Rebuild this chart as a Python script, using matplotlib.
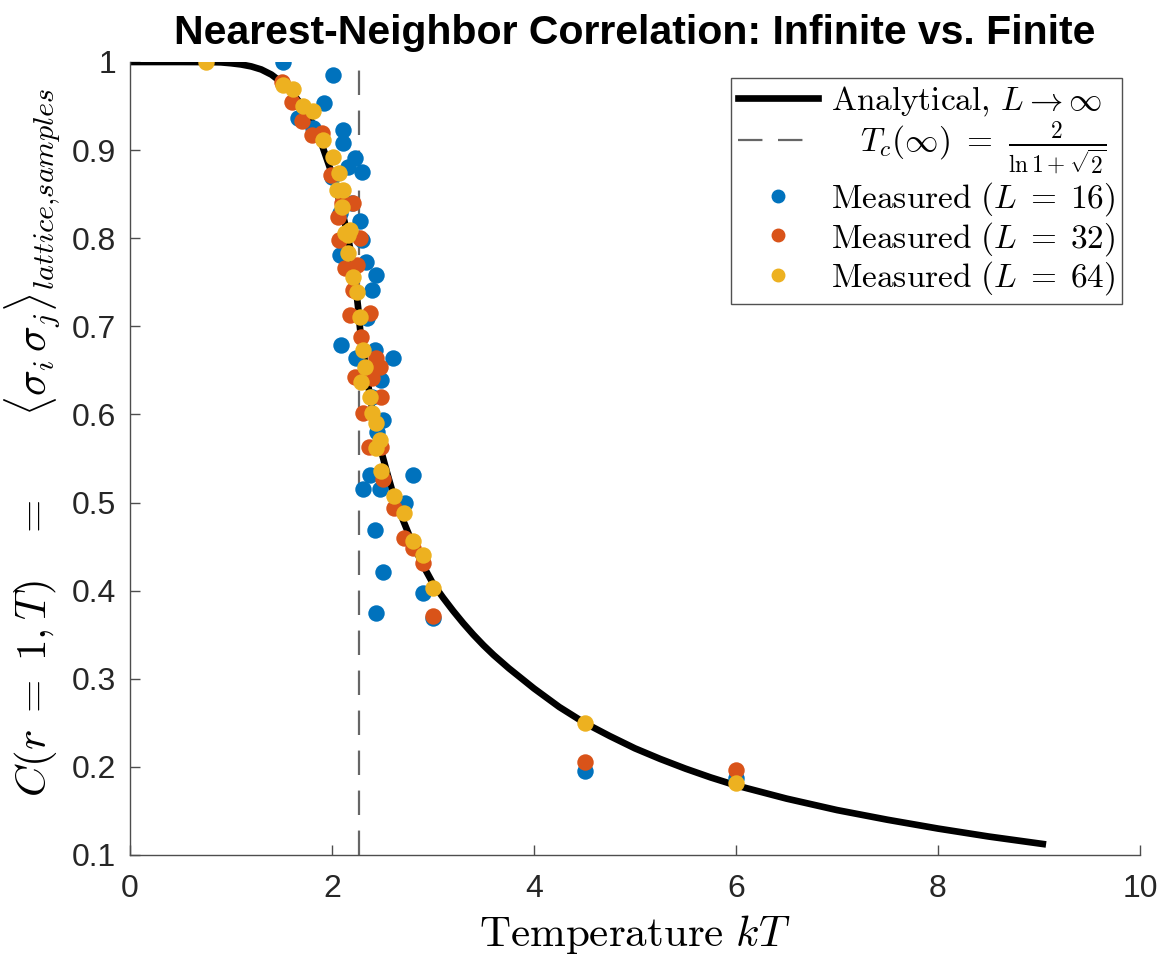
import matplotlib
matplotlib.use("Agg")
import matplotlib.pyplot as plt
from matplotlib.lines import Line2D

# ---------------- data ----------------
T_curve = [0.0, 0.5, 0.8, 0.9, 1.0, 1.1, 1.2, 1.3, 1.4, 1.5, 1.6, 1.7, 1.8, 1.9,
           2.0, 2.1, 2.15, 2.2, 2.24, 2.26, 2.269, 2.28, 2.3, 2.35, 2.4, 2.45,
           2.5, 2.55, 2.6, 2.65, 2.7, 2.8, 2.9, 3.0, 3.1, 3.2, 3.3, 3.4, 3.5,
           3.6, 3.75, 4.0, 4.25, 4.5, 4.75, 5.0, 5.25, 5.5, 5.75, 6.0, 6.5,
           7.0, 7.5, 8.0, 8.5, 9.07]
C_curve = [1.0, 1.0, 0.9999, 0.9996, 0.9986, 0.9972, 0.995, 0.9915, 0.9857,
           0.977, 0.966, 0.951, 0.932, 0.906, 0.873, 0.831, 0.806, 0.776, 0.740,
           0.720, 0.7071, 0.695, 0.682, 0.639, 0.605, 0.578, 0.553, 0.532,
           0.512, 0.496, 0.481, 0.453, 0.429, 0.408, 0.392, 0.377, 0.363,
           0.350, 0.338, 0.327, 0.312, 0.289, 0.268, 0.250, 0.235, 0.221,
           0.209, 0.198, 0.188, 0.179, 0.164, 0.151, 0.140, 0.130, 0.121, 0.112]

Tc = 2.269

T_L16 = [1.51, 2.01, 1.92, 1.81, 1.66, 2.11, 2.11, 2.16, 2.23, 2.30, 2.08, 2.28,
         2.30, 2.08, 2.34, 2.44, 2.40, 2.09, 2.43, 2.60, 2.24, 2.49, 2.50, 2.38,
         2.80, 2.31, 2.48, 2.72, 2.43, 2.50, 2.90, 2.44, 3.00, 4.50, 6.00,
         2.00, 2.20, 2.35, 2.40, 2.45]
C_L16 = [1.000, 0.985, 0.953, 0.925, 0.937, 0.923, 0.908, 0.881, 0.891, 0.875,
         0.829, 0.820, 0.798, 0.781, 0.773, 0.758, 0.741, 0.679, 0.673, 0.664,
         0.664, 0.639, 0.594, 0.531, 0.531, 0.515, 0.515, 0.500, 0.469, 0.421,
         0.397, 0.375, 0.369, 0.195, 0.187,
         0.870, 0.840, 0.710, 0.620, 0.580]

T_L32 = [1.50, 1.60, 1.70, 1.80, 1.90, 1.99, 2.21, 2.06, 2.07, 2.13, 2.25, 2.21,
         2.18, 2.38, 2.29, 2.44, 2.48, 2.23, 2.40, 2.49, 2.31, 2.37, 2.49, 2.50,
         2.61, 2.71, 2.80, 2.90, 3.00, 4.50, 6.00, 2.28, 2.10]
C_L32 = [0.977, 0.955, 0.933, 0.917, 0.919, 0.872, 0.840, 0.824, 0.798, 0.766,
         0.770, 0.741, 0.713, 0.715, 0.688, 0.664, 0.654, 0.643, 0.641, 0.620,
         0.602, 0.563, 0.563, 0.527, 0.494, 0.460, 0.448, 0.431, 0.371, 0.205,
         0.197, 0.800, 0.840]

T_L64 = [0.75, 1.51, 1.61, 1.71, 1.81, 1.91, 2.01, 2.07, 2.11, 2.05, 2.10, 2.18,
         2.13, 2.16, 2.16, 2.21, 2.25, 2.28, 2.31, 2.33, 2.29, 2.38, 2.40, 2.44,
         2.48, 2.44, 2.49, 2.61, 2.71, 2.80, 2.90, 3.00, 4.50, 6.00]
C_L64 = [1.000, 0.974, 0.969, 0.950, 0.944, 0.911, 0.892, 0.874, 0.855, 0.855,
         0.836, 0.809, 0.806, 0.783, 0.804, 0.756, 0.739, 0.711, 0.673, 0.654,
         0.637, 0.620, 0.602, 0.590, 0.571, 0.562, 0.536, 0.507, 0.488, 0.456,
         0.441, 0.403, 0.250, 0.182]

x_ticks = [0, 2, 4, 6, 8, 10]
y_ticks = [0.1, 0.2, 0.3, 0.4, 0.5, 0.6, 0.7, 0.8, 0.9, 1.0]
y_ticklabels = ["0.1", "0.2", "0.3", "0.4", "0.5", "0.6", "0.7", "0.8", "0.9", "1"]

# ---------------- styling ----------------
plt.rcParams["mathtext.fontset"] = "cm"
plt.rcParams["font.family"] = ["Liberation Sans", "DejaVu Sans"]

c_blue = "#0072BD"
c_orange = "#D95319"
c_yellow = "#EDB120"
axcol = "#4d4d4d"
dash_col = "#666666"

fig = plt.figure(figsize=(11.65, 9.6), dpi=100)
ax = fig.add_axes([130 / 1165, 105 / 960, 1010 / 1165, 793 / 960])

ax.plot(T_curve, C_curve, color="black", lw=4.8, solid_capstyle="butt",
        solid_joinstyle="round", zorder=2)
ax.axvline(Tc, color=dash_col, lw=1.6, dashes=(11, 7), zorder=1)

ms = 140
ax.scatter(T_L16, C_L16, s=ms, color=c_blue, linewidths=0, zorder=3)
ax.scatter(T_L32, C_L32, s=ms, color=c_orange, linewidths=0, zorder=4)
ax.scatter(T_L64, C_L64, s=ms, color=c_yellow, linewidths=0, zorder=5)

ax.set_xlim(0, 10)
ax.set_ylim(0.1, 1.0)
ax.set_xticks(x_ticks)
ax.set_xticklabels([str(v) for v in x_ticks])
ax.set_yticks(y_ticks)
ax.set_yticklabels(y_ticklabels)

for s in ["top", "right"]:
    ax.spines[s].set_visible(False)
for s in ["left", "bottom"]:
    ax.spines[s].set_color(axcol)
    ax.spines[s].set_linewidth(1.0)
ax.tick_params(direction="in", length=7, width=1.0, color=axcol,
               labelsize=23, labelcolor="#262626")
ax.tick_params(axis="x", pad=14)
ax.tick_params(axis="y", pad=10)

ax.set_title("Nearest-Neighbor Correlation: Infinite vs. Finite",
             fontsize=29.5, fontweight="bold", pad=13)
ax.set_xlabel(r"$\mathrm{Temperature}\ kT$", fontsize=31, labelpad=6)
ax.set_ylabel(r"$C(r\;=\;1,T)\quad=\qquad\langle\sigma_i\,\sigma_j\rangle_{lattice{,}samples}$",
              fontsize=31)
ax.yaxis.set_label_coords(-0.067, 0.52)

handles = [
    Line2D([], [], color="black", lw=4.8),
    Line2D([], [], color=dash_col, lw=1.6, dashes=(11, 7)),
    Line2D([], [], marker="o", ls="none", color=c_blue, markersize=9),
    Line2D([], [], marker="o", ls="none", color=c_orange, markersize=9),
    Line2D([], [], marker="o", ls="none", color=c_yellow, markersize=9),
]
labels = [
    r"$\mathrm{Analytical,}\,L\rightarrow\infty$",
    r"$\ \ \ T_c(\infty)\ =\ \frac{2}{\ln 1+\sqrt{2}}$",
    r"$\mathrm{Measured}\ (L\;=\;16)$",
    r"$\mathrm{Measured}\ (L\;=\;32)$",
    r"$\mathrm{Measured}\ (L\;=\;64)$",
]
leg = ax.legend(handles, labels, loc="upper right", bbox_to_anchor=(0.982, 0.980),
                borderaxespad=0, fontsize=24, frameon=True, fancybox=False,
                handlelength=2.4, handletextpad=0.4, labelspacing=0.05,
                borderpad=0.2)
leg.get_frame().set_edgecolor("#262626")
leg.get_frame().set_linewidth(1.0)

fig.savefig("out.png", dpi=100)
